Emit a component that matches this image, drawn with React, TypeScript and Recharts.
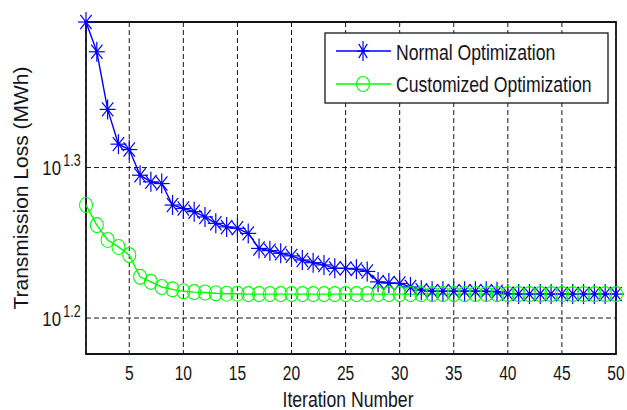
import { CartesianGrid, Legend, Line, LineChart, ReferenceArea, XAxis, YAxis } from "recharts";

const iterations = [
  1, 2, 3, 4, 5, 6, 7, 8, 9, 10, 11, 12, 13, 14, 15, 16, 17, 18, 19, 20, 21, 22, 23, 24, 25,
  26, 27, 28, 29, 30, 31, 32, 33, 34, 35, 36, 37, 38, 39, 40, 41, 42, 43, 44, 45, 46, 47, 48, 49, 50,
];

// Transmission loss in MWh
const normalLoss = [
  24.93, 23.82, 21.81, 20.68, 20.51, 19.72, 19.52, 19.47, 18.84, 18.74, 18.65, 18.5, 18.32, 18.22, 18.18,
  18.04, 17.63, 17.57, 17.5, 17.43, 17.32, 17.25, 17.19, 17.1, 17.1, 17.08, 17.02, 16.75, 16.72, 16.71,
  16.62, 16.54, 16.51, 16.51, 16.51, 16.51, 16.51, 16.51, 16.5, 16.45, 16.44, 16.44, 16.44, 16.44, 16.44,
  16.44, 16.44, 16.44, 16.44, 16.44,
];

const customizedLoss = [
  18.84, 18.27, 17.86, 17.67, 17.45, 16.88, 16.75, 16.62, 16.56, 16.51, 16.49, 16.48, 16.46, 16.45, 16.45,
  16.44, 16.44, 16.44, 16.44, 16.44, 16.44, 16.44, 16.44, 16.44, 16.44, 16.44, 16.44, 16.44, 16.44, 16.44,
  16.44, 16.44, 16.44, 16.44, 16.44, 16.44, 16.44, 16.44, 16.44, 16.44, 16.44, 16.44, 16.44, 16.44, 16.44,
  16.44, 16.44, 16.44, 16.44, 16.44,
];

const xTicks = [5, 10, 15, 20, 25, 30, 35, 40, 45, 50];
const yExponents = [1.2, 1.3];
const yTicks = yExponents.map((e) => Math.pow(10, e));
const yDomain = [15, 24.93];

const FONT = "'Liberation Sans', Arial, Helvetica, sans-serif";
const INK = "#141420";
const BLUE = "#0000ff";
const GREEN = "#00ff00";

const data = iterations.map((it, i) => ({ it, normal: normalLoss[i], custom: customizedLoss[i] }));

function Star({ cx, cy, sx = 8, sy = 10 }: { cx: number; cy: number; sx?: number; sy?: number }) {
  const dx = sx * 0.71;
  const dy = sy * 0.71;
  return (
    <g stroke={BLUE} strokeWidth={1.2} fill="none">
      <line x1={cx - sx} y1={cy} x2={cx + sx} y2={cy} />
      <line x1={cx} y1={cy - sy} x2={cx} y2={cy + sy} />
      <line x1={cx - dx} y1={cy - dy} x2={cx + dx} y2={cy + dy} />
      <line x1={cx - dx} y1={cy + dy} x2={cx + dx} y2={cy - dy} />
      <circle cx={cx} cy={cy} r={1.8} fill={BLUE} stroke="none" />
    </g>
  );
}

function Ring({ cx, cy }: { cx: number; cy: number }) {
  return <ellipse cx={cx} cy={cy} rx={6.5} ry={7.5} fill="none" stroke={GREEN} strokeWidth={1.1} />;
}

function XTick({ x, y, payload }: any) {
  return (
    <g transform={`translate(${x},${y + 26})`}>
      <text transform="scale(0.8,1)" textAnchor="middle" fontSize={19.5} fontFamily={FONT} fill={INK}>
        {payload.value}
      </text>
    </g>
  );
}

function YTick({ x, y, payload }: any) {
  const exp = Math.log10(payload.value).toFixed(1);
  return (
    <g fontFamily={FONT} fill={INK}>
      <g transform={`translate(${x - 25},${y + 7.7})`}>
        <text transform="scale(0.8,1)" textAnchor="end" fontSize={21}>
          10
        </text>
      </g>
      <g transform={`translate(${x - 22.7},${y - 1.3})`}>
        <text transform="scale(0.78,1)" fontSize={16}>
          {exp}
        </text>
      </g>
    </g>
  );
}

function LegendBox() {
  return (
    <svg width={286} height={74} style={{ display: "block" }}>
      <rect x={1} y={1} width={283} height={70} fill="#fff" stroke={INK} strokeWidth={1.3} />
      <line x1={12} y1={19} x2={67} y2={19} stroke={BLUE} strokeWidth={1.4} />
      <Star cx={39} cy={19} sx={6} sy={10} />
      <g transform="translate(72,28)">
        <text transform="scale(0.8,1)" fontSize={22} fontFamily={FONT} fill={INK}>
          Normal Optimization
        </text>
      </g>
      <line x1={12} y1={52} x2={67} y2={52} stroke={GREEN} strokeWidth={1.4} />
      <Ring cx={39} cy={52} />
      <g transform="translate(72,60)">
        <text transform="scale(0.8,1)" fontSize={22} fontFamily={FONT} fill={INK}>
          Customized Optimization
        </text>
      </g>
    </svg>
  );
}

export default function App() {
  return (
    <div style={{ position: "absolute", left: 0, top: 0, width: 627, height: 410, background: "#fff" }}>
      <LineChart width={627} height={410} data={data} margin={{ top: 22, right: 11, bottom: 0, left: 0 }}>
        <CartesianGrid stroke={INK} strokeDasharray="5 3" strokeWidth={1} />
        <XAxis
          dataKey="it"
          type="number"
          domain={[1, 50]}
          ticks={xTicks}
          height={56}
          tickSize={0}
          tickMargin={0}
          axisLine={false}
          tickLine={false}
          tick={<XTick />}
          label={{
            content: (props: any) => {
              const vb = props.viewBox;
              return (
                <g transform={`translate(${vb.x + vb.width / 2 - 3},${407})`}>
                  <text transform="scale(0.8,1)" textAnchor="middle" fontSize={22} fontFamily={FONT} fill={INK}>
                    Iteration Number
                  </text>
                </g>
              );
            },
          }}
        />
        <YAxis
          scale="log"
          type="number"
          domain={yDomain}
          ticks={yTicks}
          width={86}
          tickSize={0}
          tickMargin={0}
          axisLine={false}
          tickLine={false}
          tick={<YTick />}
          label={{
            content: (props: any) => {
              const vb = props.viewBox;
              return (
                <text
                  transform={`translate(28,${vb.y + vb.height / 2}) rotate(-90)`}
                  textAnchor="middle"
                  fontSize={21}
                  fontFamily={FONT}
                  fill={INK}
                >
                  Transmission Loss (MWh)
                </text>
              );
            },
          }}
        />
        <Line
          dataKey="normal"
          name="Normal Optimization"
          stroke={BLUE}
          strokeWidth={1.4}
          isAnimationActive={false}
          dot={(p: any) => <Star key={`s${p.index}`} cx={p.cx} cy={p.cy} />}
          activeDot={false}
        />
        <Line
          dataKey="custom"
          name="Customized Optimization"
          stroke={GREEN}
          strokeWidth={1.4}
          isAnimationActive={false}
          dot={(p: any) => <Ring key={`c${p.index}`} cx={p.cx} cy={p.cy} />}
          activeDot={false}
        />
        <ReferenceArea x1={1} x2={50} y1={yDomain[0]} y2={yDomain[1]} fill="none" stroke={INK} strokeWidth={1.8} />
        <Legend
          layout="horizontal"
          verticalAlign="middle"
          align="center"
          content={() => <LegendBox />}
          wrapperStyle={{ position: "absolute", left: 324, top: 32, width: 286, height: 74 }}
        />
      </LineChart>
    </div>
  );
}
